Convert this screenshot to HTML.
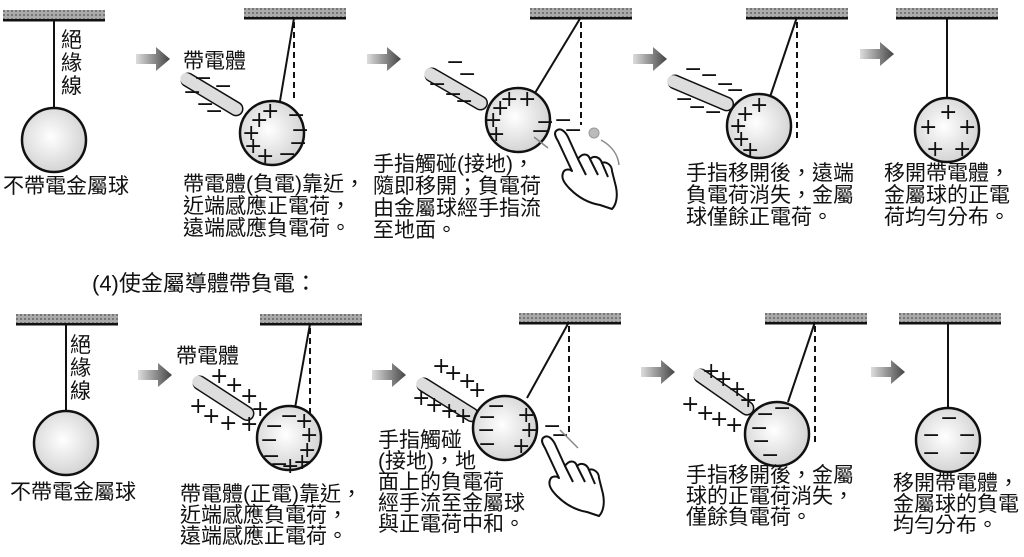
<!DOCTYPE html>
<html><head><meta charset="utf-8"><style>
html,body{margin:0;padding:0;background:#fff;}
svg{display:block;}
text{font-family:"Liberation Sans","Noto Sans CJK TC",sans-serif;fill:#111;}
.t{font-size:21px;}
.c{font-size:22px;font-family:"DejaVu Sans",sans-serif;}
</style></head><body>
<svg width="1024" height="557" viewBox="0 0 1024 557" xmlns="http://www.w3.org/2000/svg">
<defs>
<radialGradient id="bg" cx="0.45" cy="0.45" r="0.6"><stop offset="0" stop-color="#fff"/><stop offset="1" stop-color="#d0d0d0"/></radialGradient>
<linearGradient id="ag" x1="0" x2="1"><stop offset="0" stop-color="#ddd"/><stop offset="1" stop-color="#444"/></linearGradient>
<pattern id="bp" width="4" height="4" patternUnits="userSpaceOnUse"><rect width="4" height="4" fill="#aaa"/><rect width="2" height="2" fill="#777"/></pattern>
<g id="arrow"><path d="M0,-5 L20,-5 L20,-12 L34,0 L20,12 L20,5 L0,5 Z" fill="url(#ag)"/></g>
<g id="rod"><line x1="0" y1="0" x2="56" y2="0" stroke="#111" stroke-width="15" stroke-linecap="round"/><line x1="-2" y1="0" x2="56" y2="0" stroke="#ddd" stroke-width="12" stroke-linecap="round"/></g>
<g id="bar"><rect x="0" y="0" width="102" height="9" fill="url(#bp)"/><rect x="0" y="9" width="102" height="2.5" fill="#111"/></g>
<g id="hand" fill="#fff" stroke="#111" stroke-width="2" stroke-linejoin="round">
<path d="M0,0 C4,-4 9,0 12,6 L22,28 C26,22 32,22 34,28 C38,24 44,26 46,32 C50,30 56,34 56,40 L60,56 C62,66 60,74 56,78 L44,74 C32,72 22,66 14,58 C8,52 4,46 8,40 C10,38 14,38 16,40 L2,10 C-1,5 -2,2 0,0 Z"/>
<path d="M22,28 L30,44 M34,28 L42,44 M46,32 L52,46" fill="none"/></g>
</defs>

<!-- TOP ROW -->
<use href="#bar" x="3" y="10"/>
<line x1="54" y1="21" x2="54" y2="108" stroke="#111" stroke-width="2"/>
<circle cx="54" cy="140" r="32" fill="url(#bg)" stroke="#111" stroke-width="2.5"/>
<text class="t" x="61" y="47">絕</text><text class="t" x="61" y="70">緣</text><text class="t" x="61" y="93">線</text>
<text class="t" x="3" y="193">不帶電金屬球</text>

<use href="#arrow" x="136" y="59"/>

<use href="#bar" x="244" y="8"/>
<line x1="294" y1="18" x2="280" y2="101" stroke="#111" stroke-width="2"/>
<line x1="294" y1="22" x2="294" y2="102" stroke="#111" stroke-width="2" stroke-dasharray="6,4"/>
<circle cx="272" cy="133" r="32" fill="url(#bg)" stroke="#111" stroke-width="2.5"/>
<text class="t" x="183" y="68">帶電體</text>
<use href="#rod" transform="translate(188,80) rotate(31)"/>
<text class="c" x="194" y="85">−</text><text class="c" x="214" y="93">−</text><text class="c" x="183" y="99">−</text><text class="c" x="196" y="111">−</text><text class="c" x="205" y="118">−</text>
<text class="c" x="261" y="118">+</text><text class="c" x="250" y="127">+</text><text class="c" x="242" y="140">+</text><text class="c" x="244" y="153">+</text><text class="c" x="256" y="163">+</text>
<text class="c" x="287" y="122">−</text><text class="c" x="291" y="137">−</text><text class="c" x="289" y="150">−</text><text class="c" x="278" y="161">−</text>
<text class="t" x="183" y="191">帶電體(負電)靠近，</text>
<text class="t" x="183" y="213">近端感應正電荷，</text>
<text class="t" x="183" y="235">遠端感應負電荷。</text>

<use href="#arrow" x="367" y="59"/>

<use href="#bar" x="530" y="8"/>
<line x1="581" y1="17" x2="535" y2="93" stroke="#111" stroke-width="2"/>
<line x1="581" y1="22" x2="581" y2="125" stroke="#111" stroke-width="2" stroke-dasharray="6,4"/>
<use href="#rod" transform="translate(432,75) rotate(30)"/>
<text class="c" x="446" y="69">−</text><text class="c" x="458" y="81">−</text><text class="c" x="428" y="91">−</text><text class="c" x="444" y="101">−</text><text class="c" x="455" y="108">−</text>
<circle cx="518" cy="120" r="32" fill="url(#bg)" stroke="#111" stroke-width="2.5"/>
<text class="c" x="500" y="106">+</text><text class="c" x="518" y="106">+</text><text class="c" x="491" y="115">+</text><text class="c" x="484" y="127">+</text><text class="c" x="487" y="141">+</text>
<text class="c" x="536" y="129">−</text><text class="c" x="531" y="138">−</text><text class="c" x="554" y="127">−</text><text class="c" x="564" y="137">−</text>
<circle cx="594" cy="133" r="5" fill="#bbb" stroke="#999"/>
<path d="M534,137 L548,148" stroke="#888" stroke-width="1.5"/><path d="M601,140 C612,146 618,155 619,165" fill="none" stroke="#888" stroke-width="1.5"/>
<use href="#hand" x="556" y="131"/>
<text class="t" x="373" y="171">手指觸碰(接地)，</text>
<text class="t" x="373" y="193">隨即移開；負電荷</text>
<text class="t" x="373" y="215">由金屬球經手指流</text>
<text class="t" x="373" y="237">至地面。</text>

<use href="#arrow" x="633" y="59"/>

<use href="#bar" x="746" y="8"/>
<line x1="797" y1="17" x2="770" y2="97" stroke="#111" stroke-width="2"/>
<line x1="797" y1="22" x2="797" y2="140" stroke="#111" stroke-width="2" stroke-dasharray="6,4"/>
<use href="#rod" transform="translate(675,82) rotate(23)"/>
<text class="c" x="684" y="76">−</text><text class="c" x="700" y="82">−</text><text class="c" x="716" y="91">−</text><text class="c" x="726" y="97">−</text><text class="c" x="675" y="106">−</text><text class="c" x="688" y="114">−</text><text class="c" x="704" y="119">−</text>
<circle cx="759" cy="126" r="32" fill="url(#bg)" stroke="#111" stroke-width="2.5"/>
<text class="c" x="750" y="112">+</text><text class="c" x="736" y="121">+</text><text class="c" x="729" y="133">+</text><text class="c" x="732" y="146">+</text><text class="c" x="741" y="157">+</text>
<text class="t" x="686" y="180">手指移開後，遠端</text>
<text class="t" x="686" y="202">負電荷消失，金屬</text>
<text class="t" x="686" y="224">球僅餘正電荷。</text>

<use href="#arrow" x="860" y="54"/>

<use href="#bar" x="896" y="8"/>
<line x1="947" y1="18" x2="947" y2="100" stroke="#111" stroke-width="2"/>
<circle cx="947" cy="130" r="32" fill="url(#bg)" stroke="#111" stroke-width="2.5"/>
<text class="c" x="939" y="119">+</text><text class="c" x="919" y="134">+</text><text class="c" x="958" y="134">+</text><text class="c" x="926" y="156">+</text><text class="c" x="953" y="156">+</text>
<text class="t" x="884" y="180">移開帶電體，</text>
<text class="t" x="884" y="202">金屬球的正電</text>
<text class="t" x="884" y="224">荷均勻分布。</text>

<!-- HEADING -->
<text x="92" y="291" style="font-size:22px">(4)使金屬導體帶負電：</text>

<!-- BOTTOM ROW -->
<use href="#bar" x="16" y="314"/>
<line x1="66" y1="325" x2="66" y2="411" stroke="#111" stroke-width="2"/>
<circle cx="66" cy="443" r="32" fill="url(#bg)" stroke="#111" stroke-width="2.5"/>
<text class="t" x="70" y="352">絕</text><text class="t" x="70" y="375">緣</text><text class="t" x="70" y="398">線</text>
<text class="t" x="10" y="499">不帶電金屬球</text>

<use href="#arrow" x="138" y="375"/>

<use href="#bar" x="260" y="314"/>
<line x1="310" y1="324" x2="295" y2="408" stroke="#111" stroke-width="2"/>
<line x1="310" y1="328" x2="310" y2="418" stroke="#111" stroke-width="2" stroke-dasharray="6,4"/>
<text class="t" x="176" y="363">帶電體</text>
<use href="#rod" transform="translate(200,383) rotate(33)"/>
<text class="c" x="210" y="383">+</text><text class="c" x="225" y="392">+</text><text class="c" x="240" y="403">+</text><text class="c" x="251" y="416">+</text><text class="c" x="189" y="413">+</text><text class="c" x="202" y="423">+</text><text class="c" x="219" y="430">+</text><text class="c" x="240" y="431">+</text>
<circle cx="289" cy="438" r="32" fill="url(#bg)" stroke="#111" stroke-width="2.5"/>
<text class="c" x="280" y="423">−</text><text class="c" x="265" y="433">−</text><text class="c" x="260" y="447">−</text><text class="c" x="262" y="463">−</text><text class="c" x="270" y="471">−</text>
<text class="c" x="295" y="428">+</text><text class="c" x="300" y="442">+</text><text class="c" x="298" y="457">+</text><text class="c" x="293" y="469">+</text><text class="c" x="281" y="473">+</text>
<text class="t" x="180" y="501">帶電體(正電)靠近，</text>
<text class="t" x="180" y="522">近端感應負電荷，</text>
<text class="t" x="180" y="543">遠端感應正電荷。</text>

<use href="#arrow" x="372" y="375"/>

<use href="#bar" x="519" y="313"/>
<line x1="569" y1="322" x2="527" y2="398" stroke="#111" stroke-width="2"/>
<line x1="569" y1="326" x2="569" y2="435" stroke="#111" stroke-width="2" stroke-dasharray="6,4"/>
<use href="#rod" transform="translate(424,385) rotate(32)"/>
<text class="c" x="432" y="373">+</text><text class="c" x="444" y="380">+</text><text class="c" x="458" y="388">+</text><text class="c" x="468" y="397">+</text><text class="c" x="412" y="405">+</text><text class="c" x="425" y="412">+</text><text class="c" x="440" y="418">+</text><text class="c" x="454" y="423">+</text>
<circle cx="505" cy="428" r="32" fill="url(#bg)" stroke="#111" stroke-width="2.5"/>
<text class="c" x="487" y="413">−</text><text class="c" x="478" y="424">−</text><text class="c" x="477" y="437">−</text><text class="c" x="478" y="451">−</text>
<text class="c" x="517" y="422">+</text><text class="c" x="520" y="437">+</text><text class="c" x="512" y="453">+</text>
<text class="c" x="543" y="433">−</text><text class="c" x="551" y="442">−</text>
<path d="M560,430 L578,448" stroke="#888" stroke-width="1.5"/>
<use href="#hand" x="543" y="438"/>
<text class="t" x="378" y="447">手指觸碰</text>
<text class="t" x="378" y="468">(接地)，地</text>
<text class="t" x="378" y="489">面上的負電荷</text>
<text class="t" x="378" y="510">經手流至金屬球</text>
<text class="t" x="378" y="531">與正電荷中和。</text>

<use href="#arrow" x="641" y="372"/>

<use href="#bar" x="765" y="313"/>
<line x1="815" y1="322" x2="788" y2="402" stroke="#111" stroke-width="2"/>
<line x1="815" y1="326" x2="815" y2="445" stroke="#111" stroke-width="2" stroke-dasharray="6,4"/>
<use href="#rod" transform="translate(701,376) rotate(35)"/>
<text class="c" x="702" y="378">+</text><text class="c" x="714" y="386">+</text><text class="c" x="728" y="396">+</text><text class="c" x="739" y="407">+</text><text class="c" x="681" y="411">+</text><text class="c" x="696" y="420">+</text><text class="c" x="710" y="426">+</text><text class="c" x="725" y="432">+</text>
<circle cx="777" cy="434" r="32" fill="url(#bg)" stroke="#111" stroke-width="2.5"/>
<text class="c" x="773" y="415">−</text><text class="c" x="756" y="421">−</text><text class="c" x="750" y="435">−</text><text class="c" x="752" y="448">−</text><text class="c" x="761" y="462">−</text>
<text class="t" x="686" y="482">手指移開後，金屬</text>
<text class="t" x="686" y="503">球的正電荷消失，</text>
<text class="t" x="686" y="524">僅餘負電荷。</text>

<use href="#arrow" x="871" y="372"/>

<use href="#bar" x="899" y="313"/>
<line x1="948" y1="322" x2="948" y2="408" stroke="#111" stroke-width="2"/>
<circle cx="948" cy="440" r="32" fill="url(#bg)" stroke="#111" stroke-width="2.5"/>
<text class="c" x="940" y="425">−</text><text class="c" x="922" y="442">−</text><text class="c" x="958" y="442">−</text><text class="c" x="922" y="460">−</text><text class="c" x="958" y="460">−</text>
<text class="t" x="893" y="490">移開帶電體，</text>
<text class="t" x="893" y="511">金屬球的負電</text>
<text class="t" x="893" y="532">均勻分布。</text>
</svg>
</body></html>
